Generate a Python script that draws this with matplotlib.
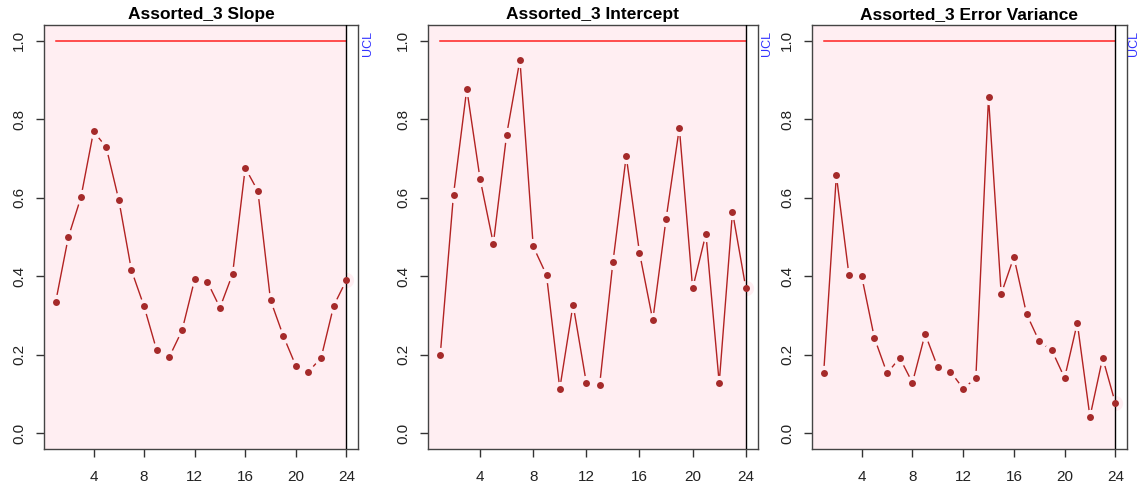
import numpy as np
import matplotlib.pyplot as plt

plt.rcParams['font.family'] = ['Liberation Sans', 'DejaVu Sans']

samples = np.arange(1, 25)

slope = [0.334, 0.499, 0.601, 0.769, 0.729, 0.594, 0.415, 0.323, 0.211, 0.195, 0.262, 0.392,
         0.386, 0.320, 0.406, 0.676, 0.617, 0.339, 0.249, 0.172, 0.157, 0.192, 0.325, 0.390]
intercept = [0.199, 0.608, 0.877, 0.648, 0.483, 0.761, 0.951, 0.476, 0.403, 0.114, 0.328, 0.128,
             0.123, 0.436, 0.706, 0.460, 0.288, 0.546, 0.778, 0.369, 0.508, 0.128, 0.564, 0.371]
err_var = [0.153, 0.657, 0.402, 0.400, 0.243, 0.153, 0.192, 0.129, 0.253, 0.168, 0.157, 0.114,
           0.140, 0.856, 0.355, 0.449, 0.304, 0.234, 0.211, 0.141, 0.281, 0.042, 0.192, 0.077]

titles = ["Assorted_3 Slope", "Assorted_3 Intercept", "Assorted_3 Error Variance"]
series = [slope, intercept, err_var]
ucl = 1.0

bg_pink = '#FFEEF2'
pt_col = '#A52A2A'
ln_col = '#B22222'

W, H = 1147, 486
fig = plt.figure(figsize=(W / 100, H / 100), dpi=100)

# panel boxes in pixels: left, right
boxes = [(44, 358), (428, 758), (812, 1127)]
top, bottom = 25, 449
ucl_x = [368.5, 767, 1133.5]

for (l, r), vals, title, ux in zip(boxes, series, titles, ucl_x):
    ax = fig.add_axes([l / W, 1 - bottom / H, (r - l) / W, (bottom - top) / H])
    n = len(vals)
    ax.set_xlim(0.08, 24.92)
    ax.set_ylim(-0.04, 1.04)
    ax.axvspan(ax.get_xlim()[0], n, color=bg_pink, lw=0, zorder=0)

    # type="b" style: line, gap around each point, then point
    ax.plot(samples, vals, color=ln_col, lw=1, zorder=2)
    ax.plot(samples, vals, 'o', ms=11, color=bg_pink, mew=0, zorder=3)
    ax.plot([1, n], [ucl, ucl], color='#FF2020', lw=1.1, zorder=4)
    ax.axvline(n, color='black', lw=1, zorder=4)
    ax.plot(samples, vals, 'o', ms=5, color=pt_col, mew=0, zorder=5)

    ax.set_xticks([4, 8, 12, 16, 20, 24])
    ax.set_yticks([0.0, 0.2, 0.4, 0.6, 0.8, 1.0])
    ax.set_yticklabels(['0.0', '0.2', '0.4', '0.6', '0.8', '1.0'])
    ax.tick_params(direction='out', length=6, width=1, pad=7, labelsize=11,
                   colors='#333333', labelcolor='#222222')
    ax.tick_params(axis='x', pad=9)
    for t in ax.get_yticklabels():
        t.set_rotation(90)
        t.set_va('center')
    for s in ax.spines.values():
        s.set_color('#444444')
        s.set_linewidth(1)
    ax.set_title(title, fontsize=12.5, fontweight='bold', pad=4)

    fig.text(ux / W, 1 - 43.5 / H, 'UCL', color='#3333FF', fontsize=9,
             rotation=90, ha='center', va='center')

fig.savefig('out.png', dpi=100, facecolor='white')
